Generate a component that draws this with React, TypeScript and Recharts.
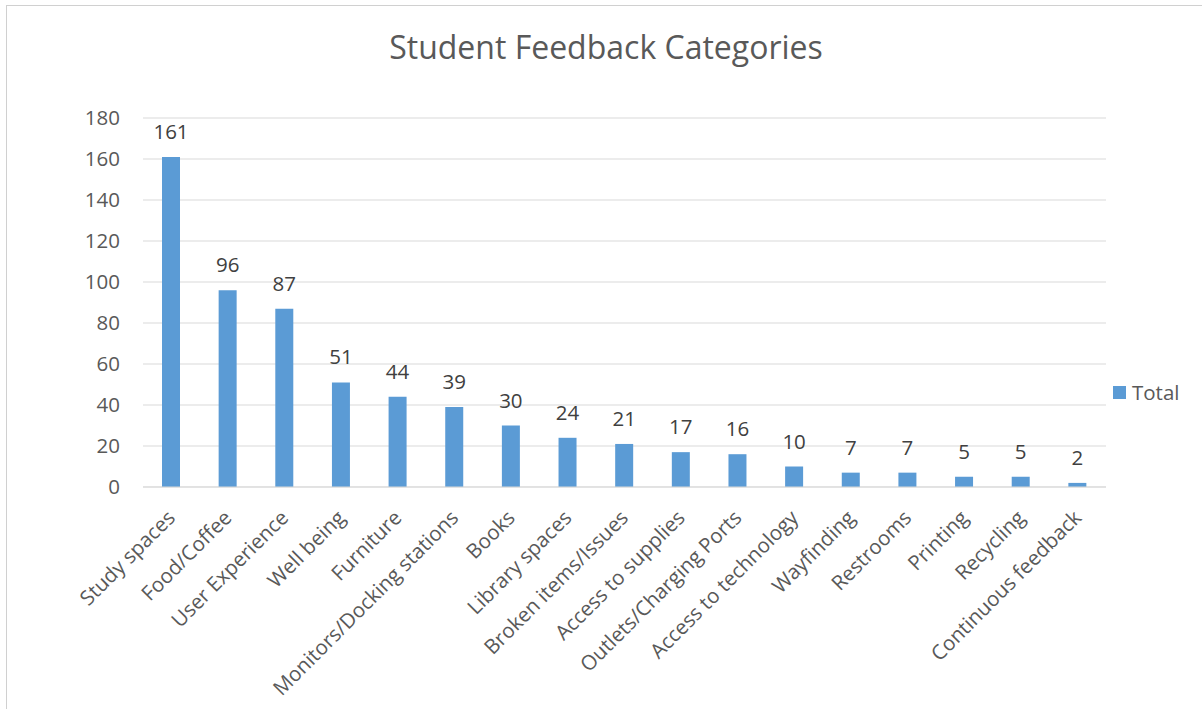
import React from 'react';
import { BarChart, Bar, XAxis, YAxis, CartesianGrid, LabelList } from 'recharts';

const categories = [
  'Study spaces',
  'Food/Coffee',
  'User Experience',
  'Well being',
  'Furniture',
  'Monitors/Docking stations',
  'Books',
  'Library spaces',
  'Broken items/Issues',
  'Access to supplies',
  'Outlets/Charging Ports',
  'Access to technology',
  'Wayfinding',
  'Restrooms',
  'Printing',
  'Recycling',
  'Continuous feedback',
];
const totals = [161, 96, 87, 51, 44, 39, 30, 24, 21, 17, 16, 10, 7, 7, 5, 5, 2];
const yTicks = [0, 20, 40, 60, 80, 100, 120, 140, 160, 180];
const seriesName = 'Total';

const data = categories.map((name, i) => ({ name, total: totals[i] }));

const FONT = '"Open Sans", sans-serif';
const BLUE = '#5b9bd5';
const GREY = '#595959';
const FS = 20.5;

const CategoryTick = (props: any) => {
  const { x, y, payload } = props;
  const ax = x + 5;
  const ay = y + 24;
  return (
    <text
      x={ax}
      y={ay}
      textAnchor="end"
      fill={GREY}
      fontSize={FS}
      fontFamily={FONT}
      transform={`rotate(-45, ${ax}, ${ay})`}
    >
      {payload.value}
    </text>
  );
};

const ValueLabel = (props: any) => {
  const { x, y, width, value } = props;
  return (
    <text x={x + width / 2} y={y - 18} textAnchor="middle" fill="#404040" fontSize={FS} fontFamily={FONT}>
      {value}
    </text>
  );
};

export default function App() {
  return (
    <div style={{ position: 'absolute', left: 0, top: 0, width: 1202, height: 709, overflow: 'hidden', background: '#fff' }}>
      <div
        style={{
          position: 'absolute',
          left: 6,
          top: 5,
          width: 1220,
          height: 720,
          borderTop: '1px solid #d0d0d0',
          borderLeft: '1px solid #d0d0d0',
        }}
      />
      <div
        style={{
          position: 'absolute',
          left: 0,
          top: 31,
          width: 1212,
          textAlign: 'center',
          fontFamily: FONT,
          fontSize: 32,
          lineHeight: '32px',
          color: GREY,
        }}
      >
        Student Feedback Categories
      </div>
      <div
        style={{
          position: 'absolute',
          left: 1113,
          top: 380,
          display: 'flex',
          alignItems: 'center',
          fontFamily: FONT,
          fontSize: FS,
          color: GREY,
          lineHeight: '24px',
        }}
      >
        <span style={{ width: 13, height: 13, background: BLUE, display: 'inline-block', marginRight: 6 }} />
        <span>{seriesName}</span>
      </div>
      <BarChart width={1202} height={709} data={data} margin={{ top: 118, right: 96, left: 0, bottom: 22 }}>
        <CartesianGrid vertical={false} stroke="#d9d9d9" />
        <XAxis
          dataKey="name"
          interval={0}
          height={200}
          axisLine={{ stroke: '#d9d9d9' }}
          tickLine={false}
          tick={<CategoryTick />}
        />
        <YAxis
          width={143}
          domain={[0, 180]}
          ticks={yTicks}
          axisLine={false}
          tickLine={false}
          tickSize={6}
          tickMargin={17}
          tick={{ fill: GREY, fontSize: FS, fontFamily: FONT }}
        />
        <Bar dataKey="total" name={seriesName} fill={BLUE} barSize={18} isAnimationActive={false}>
          <LabelList dataKey="total" content={<ValueLabel />} />
        </Bar>
      </BarChart>
    </div>
  );
}
